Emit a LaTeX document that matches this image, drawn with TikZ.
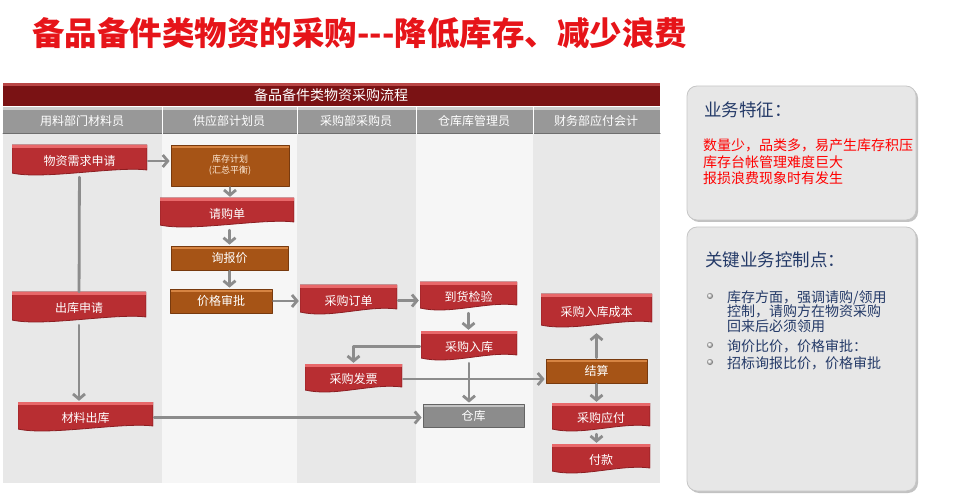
\documentclass[tikz,border=0pt]{standalone}
\usepackage{fontspec}
\setmainfont{Noto Sans CJK SC}[Ligatures=NoCommon]
\usetikzlibrary{arrows.meta,shadows}
\definecolor{titlered}{RGB}{230,20,25}
\definecolor{barred}{RGB}{122,18,20}
\definecolor{barlight}{RGB}{185,70,70}
\definecolor{hdrgray}{RGB}{152,152,152}
\definecolor{hdrlight}{RGB}{205,205,205}
\definecolor{hdrdark}{RGB}{110,110,110}
\definecolor{lanedark}{RGB}{232,232,232}
\definecolor{lanelight}{RGB}{246,246,246}
\definecolor{boxred}{RGB}{184,46,50}
\definecolor{boxredlight}{RGB}{232,104,106}
\definecolor{boxredline}{RGB}{140,30,34}
\definecolor{boxorange}{RGB}{166,84,22}
\definecolor{boxorangelight}{RGB}{214,132,66}
\definecolor{boxorangeline}{RGB}{120,58,14}
\definecolor{boxgray}{RGB}{140,140,140}
\definecolor{boxgraylight}{RGB}{195,195,195}
\definecolor{boxgrayline}{RGB}{100,100,100}
\definecolor{arrgray}{RGB}{140,140,140}
\definecolor{panelfill}{RGB}{231,231,231}
\definecolor{paneltext}{RGB}{36,58,104}
\tikzset{
    lab/.style={
        font=\fontsize{12}{14}\selectfont, text=white
    }
}

\begin{document}
\begin{tikzpicture}[x=1pt,y=-1pt, line cap=round, line join=round]

\tikzset{
  doc/.style={inner sep=0pt, lab, path picture={
      \filldraw[fill=boxred, draw=boxredline, line width=0.8pt]
        (path picture bounding box.north west) -- (path picture bounding box.north east)
        -- ([yshift=7pt]path picture bounding box.south east)
        .. controls ([xshift=-30pt,yshift=11pt]path picture bounding box.south east)
        and ([xshift=30pt,yshift=-3pt]path picture bounding box.south west)
        .. ([yshift=4pt]path picture bounding box.south west) -- cycle;
      \fill[boxredlight] (path picture bounding box.north west)
        rectangle ([yshift=-3pt]path picture bounding box.north east);
  }},
  act/.style={inner sep=0pt, lab, fill=boxorange, draw=boxorangeline, line width=0.8pt,
    path picture={\fill[boxorangelight] (path picture bounding box.north west)
        rectangle ([yshift=-3pt]path picture bounding box.north east);}},
  depot/.style={inner sep=0pt, lab, fill=boxgray, draw=boxgrayline, line width=0.8pt,
    path picture={\fill[boxgraylight] (path picture bounding box.north west)
        rectangle ([yshift=-3pt]path picture bounding box.north east);}},
  flow/.style={draw=arrgray, line width=2.8pt, shorten >=1pt, shorten <=1pt,
    -{Straight Barb[length=5pt,width=12pt]}},
  link/.style={draw=arrgray, line width=2.8pt},
  hlab/.style={font=\fontsize{14}{16}\selectfont, text=white},
  panel/.style={draw=gray!45, line width=0.8pt, fill=panelfill, rounded corners=10pt,
    drop shadow={shadow xshift=2pt, shadow yshift=-2pt, fill=gray!80, opacity=.6}},
  ptitle/.style={font=\fontsize{17.5}{20}\selectfont, text=paneltext, inner sep=0pt},
  ptext/.style={font=\fontsize{14}{14.5}\selectfont, text=paneltext, inner sep=0pt, align=left},
}

\useasboundingbox (0,0) rectangle (977,494);

% title
\node[anchor=west, inner sep=0pt, text=titlered, font=\fontsize{32.5}{38}\selectfont\bfseries]
  (title) at (32,33) {备品备件类物资的采购{-}{-}{-}降低库存、减少浪费};

% lanes
\fill[lanedark]  (3,134) rectangle (162,483);
\fill[lanelight] (162,134) rectangle (297,483);
\fill[lanedark]  (297,134) rectangle (416,483);
\fill[lanelight] (416,134) rectangle (533,483);
\fill[lanedark]  (533,134) rectangle (660,483);

% header bar
\fill[barred] (3,83) rectangle (660,106);
\fill[barlight] (3,83) rectangle (660,86);
\node[hlab] (flowtitle) at (331,95) {备品备件类物资采购流程};

% column heads
\fill[hdrgray] (3,107) rectangle (660,134);
\fill[hdrlight] (3,107) rectangle (660,110);
\draw[hdrdark, line width=1pt] (3,134) -- (660,134);
\draw[white, line width=1pt] (162,107) -- (162,134);
\draw[white, line width=1pt] (297,107) -- (297,134);
\draw[white, line width=1pt] (416,107) -- (416,134);
\draw[white, line width=1pt] (533,107) -- (533,134);
\node[lab] (lane1) at (82,121) {用料部门材料员};
\node[lab] (lane2) at (229,121) {供应部计划员};
\node[lab] (lane3) at (356,121) {采购部采购员};
\node[lab] (lane4) at (474,121) {仓库库管理员};
\node[lab] (lane5) at (596,121) {财务部应付会计};

% boxes
\node[doc, minimum width=135pt, minimum height=32pt] (req) at (79.5,161) {物资需求申请};
\node[act, minimum width=118pt, minimum height=41pt, align=center,
  font=\fontsize{9}{11}\selectfont, text=orange!15] (plan) at (230,165.5) {库存计划\\(汇总平衡)};
\node[doc, minimum width=134pt, minimum height=31pt] (pr) at (227,213.5) {请购单};
\node[act, minimum width=117pt, minimum height=24pt] (quote) at (229.5,258) {询报价};
\node[act, minimum width=102pt, minimum height=24pt] (approve) at (221,301) {价格审批};
\node[doc, minimum width=134pt, minimum height=32pt] (outreq) at (79,308) {出库申请};
\node[doc, minimum width=135pt, minimum height=31pt] (issue) at (85.5,417.5) {材料出库};
\node[doc, minimum width=97pt, minimum height=31pt] (po) at (348.5,300.5) {采购订单};
\node[doc, minimum width=97pt, minimum height=30pt] (check) at (468.5,297) {到货检验};
\node[doc, minimum width=96pt, minimum height=31pt] (instock) at (469,346.5) {采购入库};
\node[doc, minimum width=97pt, minimum height=30pt] (invoice) at (353.5,379) {采购发票};
\node[depot, minimum width=101pt, minimum height=23pt] (store) at (473.5,415.5) {仓库};
\node[doc, minimum width=111pt, minimum height=35pt] (cost) at (596.5,311.5) {采购入库成本};
\node[act, minimum width=101pt, minimum height=24pt] (settle) at (596.5,371) {结算};
\node[doc, minimum width=98pt, minimum height=30pt] (payable) at (601,418) {采购应付};
\node[doc, minimum width=98pt, minimum height=31pt] (pay) at (601,459.5) {付款};

% flow
\draw[flow] (req) -- (req -| plan.west);
\draw[flow] (plan) -- (plan |- pr.north);
\draw[flow] (quote |- pr.south) -- (quote.north);
\draw[flow] (quote) -- (quote |- approve.north);
\draw[flow] (approve) -- (approve -| po.west);
\draw[link] (req) -- (outreq);
\draw[flow] (outreq) -- (outreq |- issue.north);
\draw[flow] (issue) -- (issue -| store.west);
\draw[flow] (po) -- (po -| check.west);
\draw[flow] (check) -- (check |- instock.north);
\draw[flow] (instock.west) -| (invoice.north);
\draw[flow] (instock) -- (instock |- store.north);
\draw[flow] (invoice) -- (invoice -| settle.west);
\draw[flow, shorten >=4pt] (settle) -- (settle |- cost.south);
\draw[flow] (settle) -- (settle |- payable.north);
\draw[flow] (settle |- payable.south) -- (settle |- pay.north);

% panel: features
\node[panel, minimum width=229pt, minimum height=134pt] (featpanel) at (801.5,153) {};
\node[ptitle, anchor=west] (feattitle) at (704,110) {业务特征：};
\node[anchor=north west, inner sep=0pt, align=left, text=red,
  font=\fontsize{14}{16.5}\selectfont] (featlist) at (703,139)
  {数量少，品类多，易产生库存积压\\库存台帐管理难度巨大\\报损浪费现象时有发生};

% panel: control points
\node[panel, minimum width=229pt, minimum height=264pt] (ctrlpanel) at (801.5,359) {};
\node[ptitle, anchor=west] (ctrltitle) at (705,260) {关键业务控制点：};
\shade[ball color=gray!25] (710,296) circle (3pt);
\shade[ball color=gray!25] (710,345) circle (3pt);
\shade[ball color=gray!25] (710,362) circle (3pt);
\node[ptext, anchor=north west] (ctrl1) at (727,290)
  {库存方面，强调请购/领用\\控制，请购方在物资采购\\回来后必须领用};
\node[ptext, anchor=west] (ctrl2) at (727,346) {询价比价，价格审批：};
\node[ptext, anchor=west] (ctrl3) at (727,363) {招标询报比价，价格审批};

\end{tikzpicture}
\end{document}
